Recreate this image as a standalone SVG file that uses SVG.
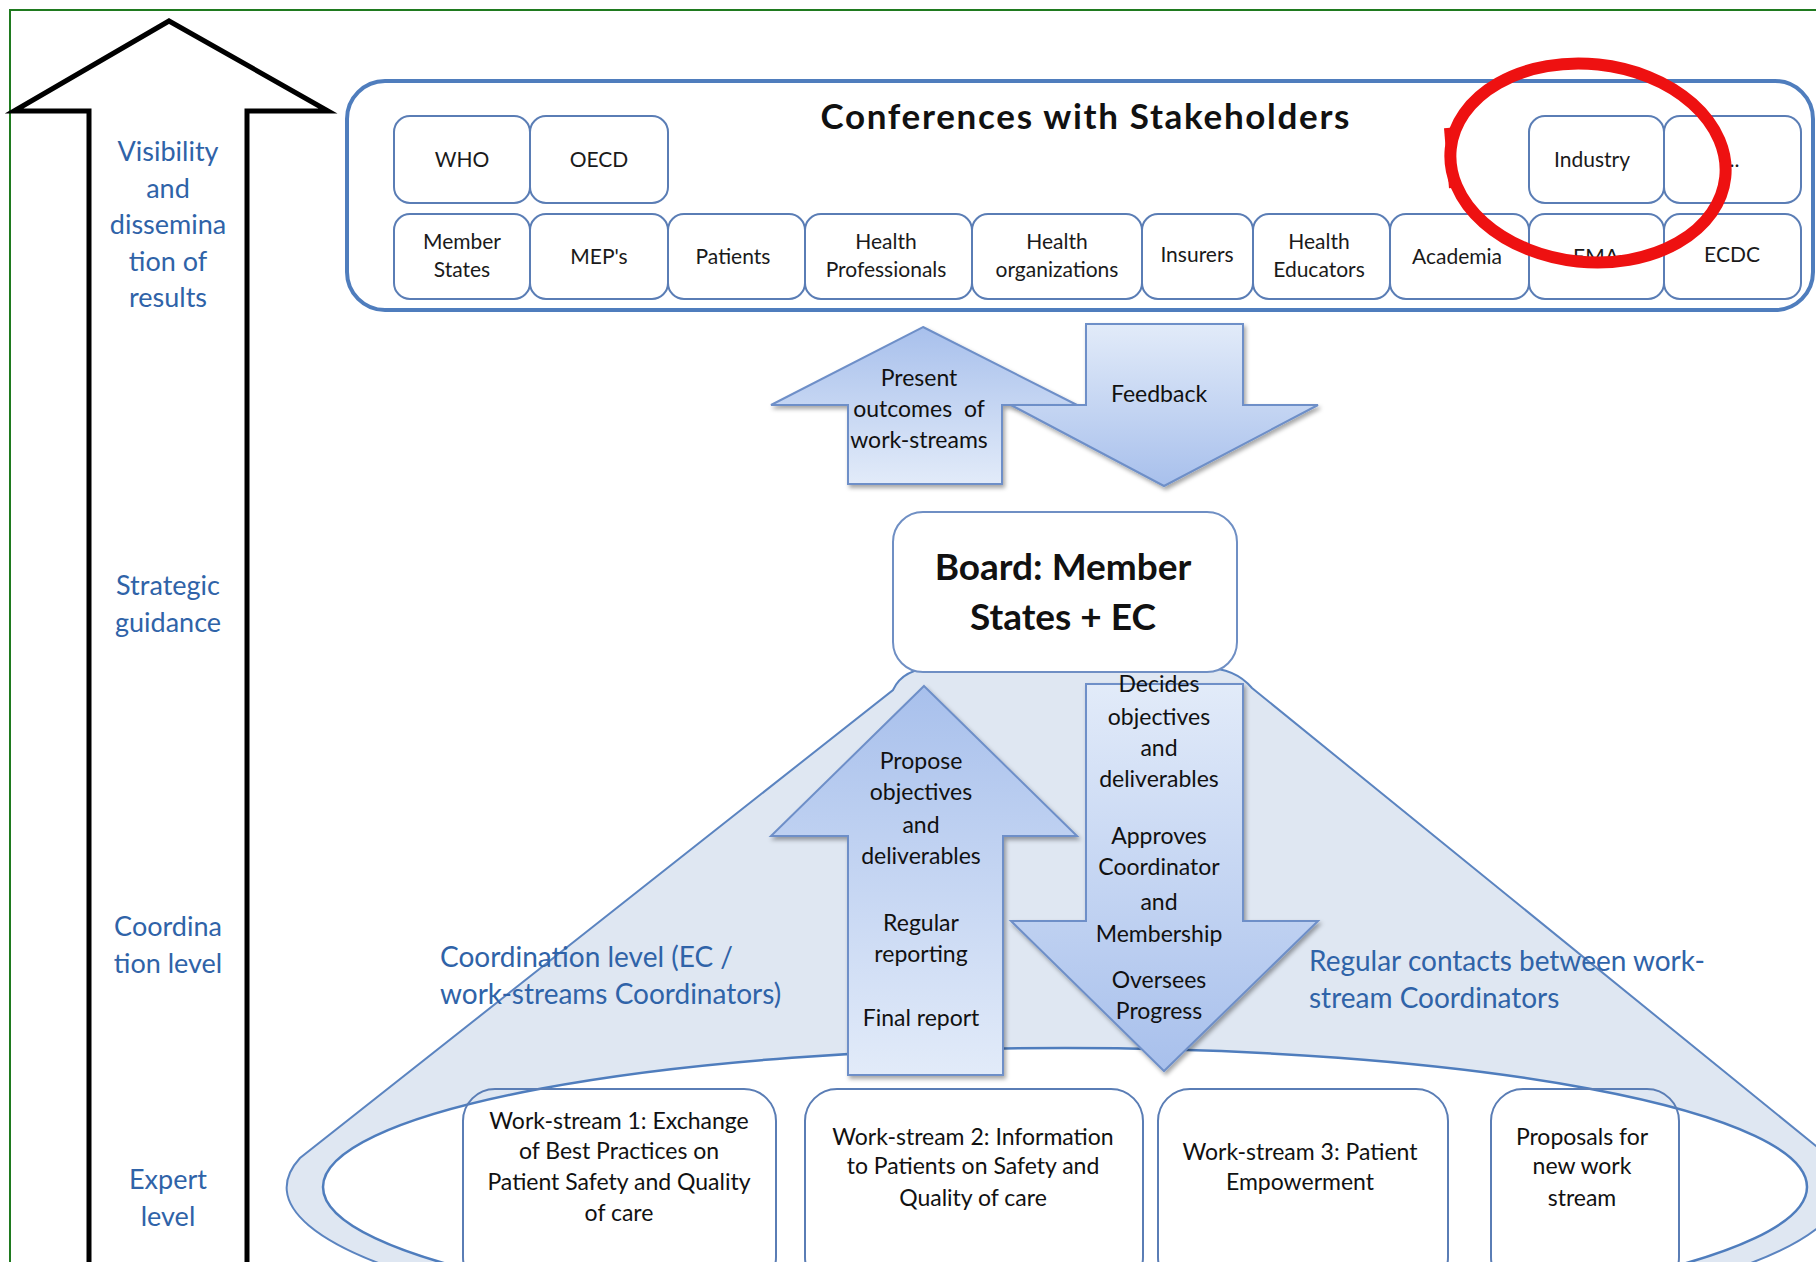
<svg xmlns="http://www.w3.org/2000/svg" width="1816" height="1262" viewBox="0 0 1816 1262">
<defs>
<linearGradient id="gUp" x1="0" y1="0" x2="0" y2="1"><stop offset="0" stop-color="#a8c0ec"/><stop offset="1" stop-color="#e2ebf9"/></linearGradient>
<linearGradient id="gDown" x1="0" y1="0" x2="0" y2="1"><stop offset="0" stop-color="#e2ebf9"/><stop offset="1" stop-color="#a8c0ec"/></linearGradient>
<filter id="sh" x="-10%" y="-10%" width="130%" height="130%"><feDropShadow dx="2" dy="3" stdDeviation="2" flood-color="#000" flood-opacity="0.35"/></filter>
<style>
.lbl{font-family:Lato,"Liberation Sans",sans-serif;fill:#2f63a8;text-anchor:middle;font-size:27px}
.side{font-family:Lato,"Liberation Sans",sans-serif;fill:#2f63a8;font-size:28px}
.sb rect{fill:#fff;stroke:#5a7db5;stroke-width:2}
.st{font-family:Lato,"Liberation Sans",sans-serif;fill:#1a1a1a;font-size:21px;text-anchor:middle}
.at{font-family:Lato,"Liberation Sans",sans-serif;fill:#111;font-size:23px;text-anchor:middle}
.ws{fill:none;stroke:#5a7db5;stroke-width:2}
.wt{font-family:Lato,"Liberation Sans",sans-serif;fill:#111;font-size:23px;text-anchor:middle}
.arU{fill:url(#gUp);stroke:#6e8fc8;stroke-width:2;filter:url(#sh)}
.arD{fill:url(#gDown);stroke:#6e8fc8;stroke-width:2;filter:url(#sh)}
.bold{font-family:Lato,"Liberation Sans",sans-serif;font-weight:bold;fill:#111;text-anchor:middle}
</style>
</defs>
<rect x="0" y="0" width="1816" height="1262" fill="#fff"/>
<rect x="10" y="10" width="1830" height="1280" fill="none" stroke="#1f7a1f" stroke-width="2"/>

<g id="level-arrow">
<polygon points="169,21 328,111 247,111 247,1280 89,1280 89,111 14,111" fill="#fff" stroke="#000" stroke-width="5" stroke-linejoin="miter"/>
<text class="lbl" x="168" y="161">Visibility</text>
<text class="lbl" x="168" y="198">and</text>
<text class="lbl" x="168" y="234">dissemina</text>
<text class="lbl" x="168" y="271">tion of</text>
<text class="lbl" x="168" y="307">results</text>
<text class="lbl" x="168" y="595">Strategic</text>
<text class="lbl" x="168" y="632">guidance</text>
<text class="lbl" x="168" y="936">Coordina</text>
<text class="lbl" x="168" y="973">tion level</text>
<text class="lbl" x="168" y="1189">Expert</text>
<text class="lbl" x="168" y="1226">level</text>
</g>

<g id="conferences">
<rect x="347" y="81" width="1466" height="229" rx="38" fill="#fff" stroke="#4f7dbd" stroke-width="4"/>
<text class="bold" x="1085" y="129" font-size="35" textLength="529" lengthAdjust="spacing">Conferences with Stakeholders</text>
<g class="sb">
<rect x="394" y="116" width="136" height="87" rx="16"/>
<rect x="530" y="116" width="138" height="87" rx="16"/>
<rect x="1529" y="116" width="135" height="87" rx="16"/>
<rect x="1664" y="116" width="137" height="87" rx="16"/>
<rect x="394" y="214" width="136" height="85" rx="16"/>
<rect x="530" y="214" width="138" height="85" rx="16"/>
<rect x="668" y="214" width="137" height="85" rx="16"/>
<rect x="805" y="214" width="167" height="85" rx="16"/>
<rect x="972" y="214" width="170" height="85" rx="16"/>
<rect x="1142" y="214" width="111" height="85" rx="16"/>
<rect x="1253" y="214" width="137" height="85" rx="16"/>
<rect x="1390" y="214" width="139" height="85" rx="16"/>
<rect x="1529" y="214" width="135" height="85" rx="16"/>
<rect x="1664" y="214" width="137" height="85" rx="16"/>
</g>
<text class="st" x="462" y="167">WHO</text>
<text class="st" x="599" y="167">OECD</text>
<text class="st" x="1592" y="167">Industry</text>
<text class="st" x="1732" y="167">...</text>
<text class="st" x="462" y="249">Member</text>
<text class="st" x="462" y="277">States</text>
<text class="st" x="599" y="264">MEP's</text>
<text class="st" x="733" y="264">Patients</text>
<text class="st" x="886" y="249">Health</text>
<text class="st" x="886" y="277">Professionals</text>
<text class="st" x="1057" y="249">Health</text>
<text class="st" x="1057" y="277">organizations</text>
<text class="st" x="1197" y="262">Insurers</text>
<text class="st" x="1319" y="249">Health</text>
<text class="st" x="1319" y="277">Educators</text>
<text class="st" x="1457" y="264">Academia</text>
<text class="st" x="1596" y="264">EMA</text>
<text class="st" x="1732" y="262">ECDC</text>
</g>

<g id="red-circle" fill="none" stroke="#ee1111">
<ellipse cx="1588" cy="163" rx="138" ry="99" stroke-width="12" transform="rotate(6 1588 163)"/>
<path d="M1447,128 L1452,188" stroke-width="6"/>
</g>

<g id="cone">
<path d="M893,690 Q903,668 935,668 L1205,668 Q1235,668 1252,688 L1816,1146 A778,160 0 1 1 300,1158 Z" fill="#dfe7f2" stroke="#5b84c0" stroke-width="2"/>
<ellipse cx="1065" cy="1187" rx="742" ry="139" fill="#fff" stroke="#4f7dbd" stroke-width="2.5"/>
<text class="side" x="440" y="967">Coordination level (EC /</text>
<text class="side" x="440" y="1004">work-streams Coordinators)</text>
<text class="side" x="1309" y="971">Regular contacts between work-</text>
<text class="side" x="1309" y="1008">stream Coordinators</text>
</g>

<g id="board">
<rect x="893" y="512" width="344" height="160" rx="30" fill="#fff" stroke="#6f8fc4" stroke-width="2"/>
<text class="bold" x="1063" y="580" font-size="37">Board: Member</text>
<text class="bold" x="1063" y="630" font-size="37">States + EC</text>
</g>

<g id="ws1"><rect class="ws" x="463" y="1089" width="313" height="200" rx="32"/>
<text class="wt" x="619" y="1129">Work-stream 1: Exchange</text>
<text class="wt" x="619" y="1159">of Best  Practices on</text>
<text class="wt" x="619" y="1190">Patient Safety and Quality</text>
<text class="wt" x="619" y="1221">of care</text></g>
<g id="ws2"><rect class="ws" x="805" y="1089" width="338" height="200" rx="32"/>
<text class="wt" x="973" y="1145">Work-stream 2: Information</text>
<text class="wt" x="973" y="1174">to Patients on Safety and</text>
<text class="wt" x="973" y="1206">Quality of care</text></g>
<g id="ws3"><rect class="ws" x="1158" y="1089" width="290" height="200" rx="32"/>
<text class="wt" x="1300" y="1160">Work-stream 3: Patient</text>
<text class="wt" x="1300" y="1190">Empowerment</text></g>
<g id="ws-new"><rect class="ws" x="1491" y="1089" width="188" height="200" rx="32"/>
<text class="wt" x="1582" y="1145">Proposals for</text>
<text class="wt" x="1582" y="1174">new work</text>
<text class="wt" x="1582" y="1206">stream</text></g>

<g id="connectors">
<g id="present-arrow">
<polygon class="arU" points="923,327 1077,405 1002,405 1002,484 848,484 848,405 771,405"/>
<text class="at" x="919" y="386">Present</text>
<text class="at" x="919" y="417" xml:space="preserve">outcomes  of</text>
<text class="at" x="919" y="448">work-streams</text>
</g>
<g id="feedback-arrow">
<polygon class="arD" points="1086,324 1243,324 1243,405 1318,405 1164,486 1011,405 1086,405"/>
<text class="at" x="1159" y="402">Feedback</text>
</g>
<g id="propose-arrow">
<polygon class="arU" points="924,686 1077,836 1003,836 1003,1075 848,1075 848,836 771,836"/>
<text class="at" x="921" y="769">Propose</text>
<text class="at" x="921" y="800">objectives</text>
<text class="at" x="921" y="833">and</text>
<text class="at" x="921" y="864">deliverables</text>
<text class="at" x="921" y="931">Regular</text>
<text class="at" x="921" y="962">reporting</text>
<text class="at" x="921" y="1026">Final report</text>
</g>
<g id="decides-arrow">
<polygon class="arD" points="1086,684 1243,684 1243,921 1318,921 1164,1071 1011,921 1086,921"/>
<text class="at" x="1159" y="692">Decides</text>
<text class="at" x="1159" y="725">objectives</text>
<text class="at" x="1159" y="756">and</text>
<text class="at" x="1159" y="787">deliverables</text>
<text class="at" x="1159" y="844">Approves</text>
<text class="at" x="1159" y="875">Coordinator</text>
<text class="at" x="1159" y="910">and</text>
<text class="at" x="1159" y="942">Membership</text>
<text class="at" x="1159" y="988">Oversees</text>
<text class="at" x="1159" y="1019">Progress</text>
</g>
</g>
</svg>
